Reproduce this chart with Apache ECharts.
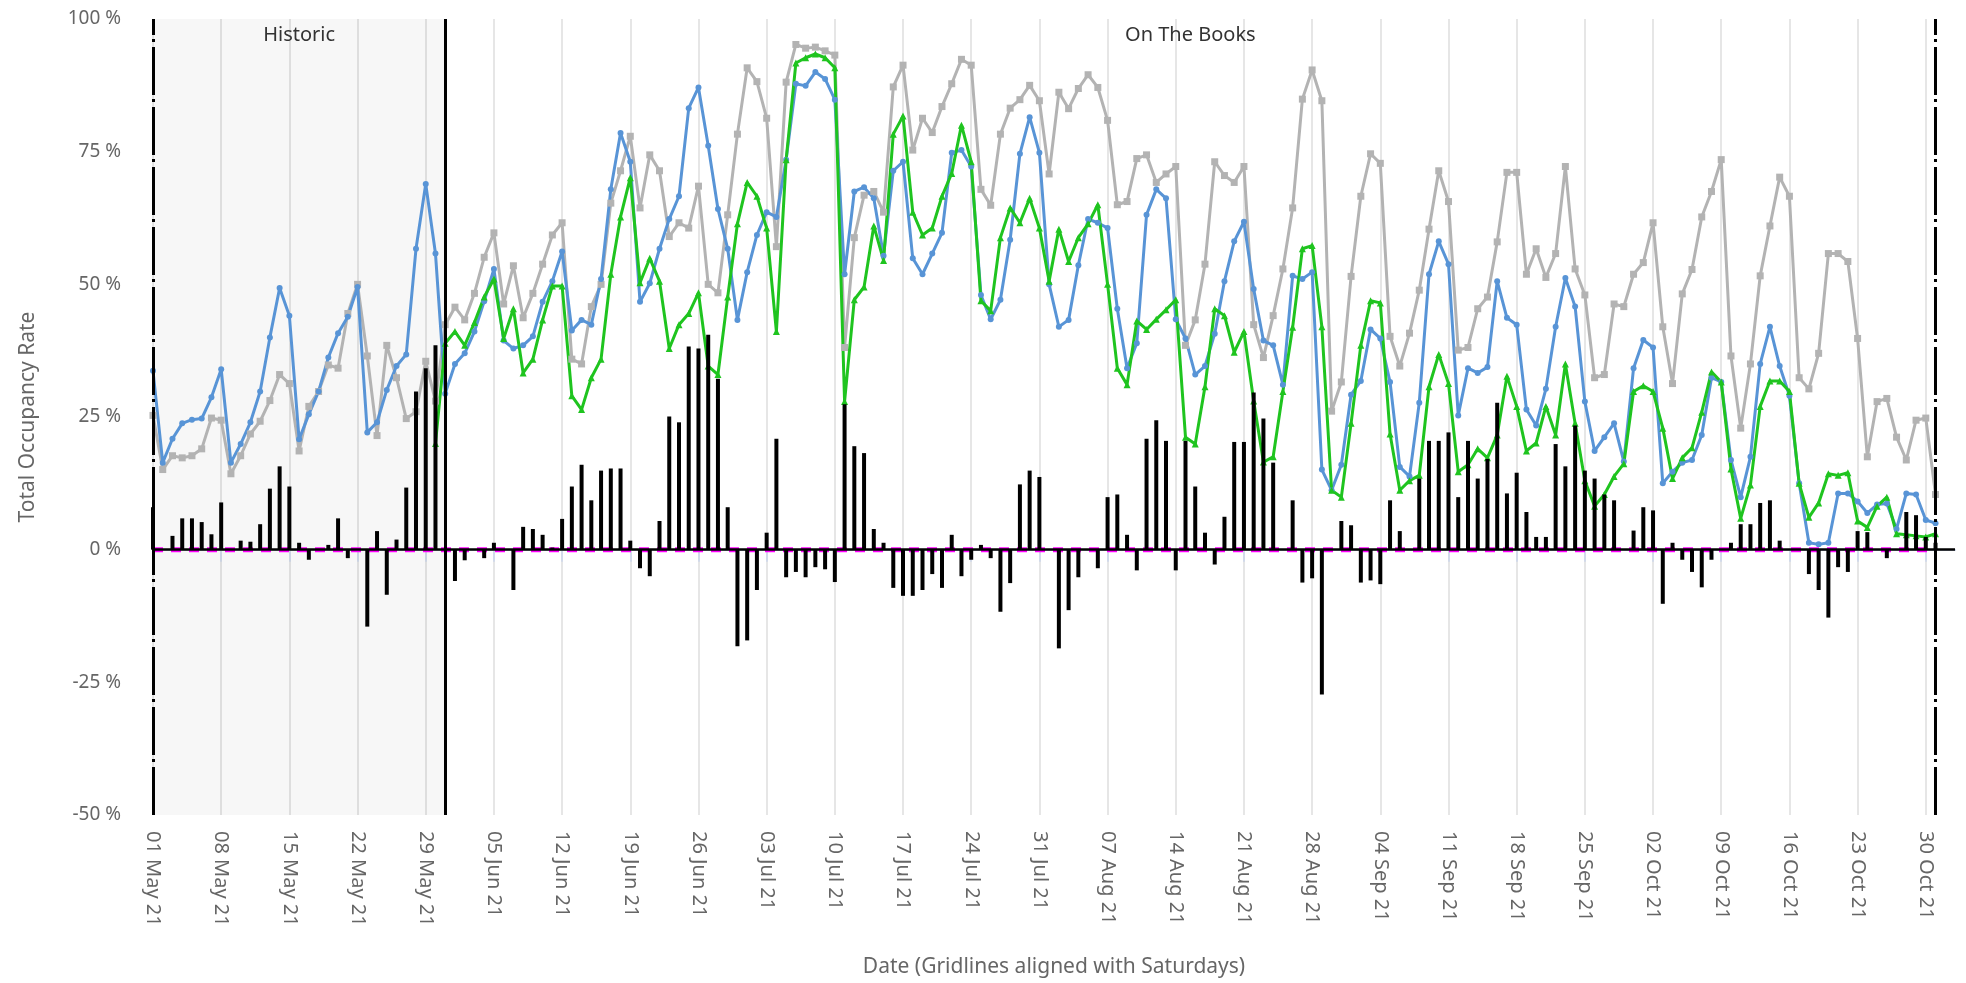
<!DOCTYPE html>
<html>
<head>
<meta charset="utf-8">
<title>Total Occupancy Rate</title>
<script src="https://cdn.jsdelivr.net/npm/echarts@6/dist/echarts.min.js"></script>
<style>
    html, body { margin: 0; padding: 0; background: #fff; }
    #occ { width: 1966px; height: 983px; }
</style>
</head>
<body>
<div id="occ"></div>
<script>
// daily values, 01 May 21 .. 31 Oct 21 (index 0 = 01 May)
var lastYear = [25.3,15.1,17.7,17.3,17.7,19.0,24.8,24.4,14.3,17.7,21.8,24.2,28.1,33.0,31.3,18.6,27.0,29.8,34.8,34.2,44.5,50.0,36.5,21.5,38.5,32.4,24.7,26.0,35.5,28.0,
    42.4,45.7,43.3,48.3,55.1,59.7,46.3,53.5,43.7,48.3,53.8,59.3,61.6,35.9,35.0,45.8,50.0,65.3,71.4,77.9,64.4,74.4,71.4,59.0,61.6,60.6,68.5,50.0,48.4,63.1,
    78.3,90.8,88.2,81.3,57.1,88.1,95.2,94.5,94.7,94.0,93.2,38.1,58.8,66.8,67.5,63.6,87.2,91.3,75.3,81.3,78.6,83.5,87.8,92.4,91.3,67.9,64.9,78.3,83.2,84.8,
    87.5,84.6,70.8,86.2,83.1,86.9,89.5,87.1,80.9,65.0,65.6,73.7,74.4,69.2,70.8,72.2,38.5,43.3,53.8,73.1,70.5,69.2,72.2,42.4,36.2,44.1,52.9,64.4,84.9,90.4,
    84.6,26.1,31.6,51.5,66.6,74.6,72.8,40.2,34.6,40.8,48.9,60.4,71.4,65.6,37.6,38.1,45.4,47.6,58.0,71.1,71.1,51.9,56.7,51.3,55.8,72.2,52.9,48.0,32.4,33.0,
    46.3,45.8,51.9,54.1,61.6,42.0,31.3,48.2,52.8,62.7,67.5,73.5,36.5,22.9,35.0,51.6,61.0,70.2,66.6,32.4,30.3,37.0,55.8,55.8,54.3,39.8,17.5,27.9,28.5,21.2,
    16.9,24.4,24.8,10.4];

var thisYear = [33.7,16.4,20.9,23.8,24.5,24.7,28.7,34.0,16.4,19.9,24.0,29.8,40.0,49.3,44.1,20.8,25.5,29.8,36.2,40.8,43.9,49.5,22.1,24.0,30.1,34.6,36.8,56.7,68.9,55.8,
    29.4,35.0,37.0,41.1,46.8,52.9,39.4,37.9,38.5,40.2,46.7,50.6,56.2,41.3,43.3,42.4,51.0,67.9,78.5,73.1,46.7,50.2,56.7,62.3,66.6,83.2,87.1,76.1,64.2,56.7,
    43.3,52.3,59.3,63.6,62.7,73.5,87.8,87.4,90.0,88.7,84.8,51.9,67.5,68.3,66.2,55.4,71.4,73.1,54.9,51.9,55.8,59.7,74.8,75.3,72.2,48.0,43.4,47.1,58.4,74.6,
    81.5,74.8,50.0,42.0,43.3,53.6,62.3,61.6,60.6,45.4,34.2,38.9,63.1,67.9,66.2,43.4,39.8,33.0,34.6,40.7,50.6,58.1,61.8,49.1,39.4,38.5,31.1,51.6,51.0,52.3,
    15.1,11.2,16.0,29.2,31.8,41.5,39.8,31.6,15.6,13.8,27.7,51.9,58.1,53.8,25.3,34.2,33.3,34.4,50.6,43.7,42.4,26.4,23.4,30.3,42.0,51.2,45.8,27.9,18.6,21.2,
    23.8,16.6,34.2,39.5,38.1,12.5,14.7,16.4,16.9,21.6,32.4,31.6,16.9,9.9,17.5,35.0,42.0,34.6,29.0,12.5,1.3,1.0,1.3,10.6,10.6,9.1,6.9,8.5,8.7,3.9,
    10.6,10.4,5.6,5.0];

var forecast = [null,null,null,null,null,null,null,null,null,null,null,null,null,null,null,null,null,null,null,null,null,null,null,null,null,null,null,null,null,20.0,
    38.9,41.1,38.5,42.8,47.6,51.0,39.8,45.4,33.3,35.9,43.3,49.7,49.7,29.0,26.4,32.4,35.9,51.9,62.7,70.1,50.3,54.9,50.6,37.9,42.4,44.5,48.4,34.6,33.0,47.6,
    61.4,69.2,66.6,60.6,41.1,73.5,91.7,92.7,93.4,92.7,90.8,27.9,47.1,49.5,61.0,54.5,78.3,81.7,63.6,59.3,60.6,66.6,70.9,80.0,73.1,46.9,45.0,58.8,64.4,61.6,
    66.2,60.6,50.6,60.4,54.3,58.8,61.4,65.0,50.0,34.2,31.1,43.1,41.5,43.4,45.2,47.1,21.2,19.9,30.7,45.4,44.1,37.2,41.1,28.0,16.5,17.5,29.8,41.9,56.7,57.3,
    42.0,11.2,9.9,23.8,38.5,46.9,46.5,21.8,11.2,13.0,14.0,30.7,36.8,31.3,14.7,16.0,19.0,17.3,21.6,32.7,27.0,18.6,20.1,27.0,21.6,35.0,23.8,13.0,8.2,10.4,
    13.8,16.2,29.8,30.9,29.8,22.9,13.4,17.3,19.2,25.9,33.5,31.6,15.2,5.9,12.2,27.0,31.8,31.8,29.8,12.5,6.1,8.8,14.3,14.0,14.5,5.4,4.2,8.2,9.9,3.0,
    2.8,2.6,2.4,3.0];

var change = [8.0,0,2.6,5.9,5.9,5.2,2.9,8.9,0,1.7,1.5,4.8,11.5,15.7,11.9,1.3,-1.9,0,0.9,5.9,-1.6,0,-14.5,3.5,-8.5,1.9,11.7,29.8,34.2,38.5,
    null,-5.9,-2.0,0,-1.6,1.3,0,-7.6,4.3,3.9,2.8,0.4,5.8,11.9,16.0,9.3,14.9,15.3,15.3,1.7,-3.5,-5.0,5.4,25.1,24.0,38.3,37.9,40.5,32.2,8.0,
    -18.2,-17.1,-7.6,3.2,20.9,-5.2,-4.2,-5.2,-3.3,-3.7,-6.1,27.4,19.5,18.2,3.9,1.3,-7.2,-8.7,-8.7,-7.6,-4.6,-7.2,2.8,-5.0,-1.9,0.9,-1.6,-11.7,-6.3,12.3,
    14.9,13.7,0,-18.6,-11.4,-5.2,0,-3.5,9.9,10.4,2.8,-3.9,20.9,24.4,20.5,-3.9,20.5,11.9,3.2,-2.8,6.2,20.3,20.3,29.6,24.7,16.4,0,9.3,-6.2,-5.4,
    -27.3,0,5.4,4.6,-6.2,-5.8,-6.5,9.3,3.5,0,13.4,20.5,20.5,22.1,9.9,20.5,13.4,17.1,27.7,10.6,14.5,7.1,2.4,2.4,19.9,15.7,23.4,14.9,13.4,10.4,
    9.3,0,3.6,8.0,7.4,-10.2,1.3,-1.9,-4.2,-7.1,-1.9,0,1.3,4.8,4.8,8.8,9.3,1.7,0,0,-4.6,-7.6,-12.8,-3.3,-4.2,3.5,3.3,0,-1.6,0,
    7.1,6.5,2.4,1.3];

var yTicks = [-50, 100, 25];   // min, max, step
var todayIndex = 30;           // 31 May 21, end of historic data
var lastIndex = 183;           // 31 Oct 21

// axis categories: one per day, 01 May 21 .. 02 Nov 21
var monthNames = ['Jan','Feb','Mar','Apr','May','Jun','Jul','Aug','Sep','Oct','Nov','Dec'];
var days = [];
for (var i = 0; i < 186; i++) {
    var d = new Date(2021, 4, 1 + i);
    days.push(('0' + d.getDate()).slice(-2) + ' ' + monthNames[d.getMonth()] + ' 21');
}
var zeros = thisYear.map(function () { return 0; });

(function(){

    var chart = echarts.init(document.getElementById('occ'));
    var font = 'Noto Sans';
    var everySaturday = function (index) { return index % 7 === 0; };

    option = {
        animation: false,
        backgroundColor: '#fff',
        grid: {
            left: 153,
            right: 11,
            top: 19,
            bottom: 168,
            containLabel: false
        },
        xAxis: {
            type: 'category',
            boundaryGap: false,
            data: days,
            name: 'Date (Gridlines aligned with Saturdays)',
            nameLocation: 'middle',
            nameGap: 142,
            nameTextStyle: { color: '#666', fontSize: 21, fontFamily: font },
            axisLine: { lineStyle: { color: '#ccd6eb', width: 2 } },
            axisTick: { interval: everySaturday, length: 12, lineStyle: { color: '#ccd6eb', width: 1.5 } },
            axisLabel: {
                interval: everySaturday,
                rotate: -90,
                margin: 16,
                color: '#666',
                fontSize: 20,
                fontFamily: font
            },
            splitLine: { show: true, interval: everySaturday, lineStyle: { color: '#e6e6e6', width: 2 } }
        },
        yAxis: {
            type: 'value',
            min: yTicks[0],
            max: yTicks[1],
            interval: yTicks[2],
            name: 'Total Occupancy Rate',
            nameLocation: 'middle',
            nameGap: 114,
            nameTextStyle: { color: '#666', fontSize: 21, fontFamily: font },
            axisLine: { show: false },
            axisTick: { show: false },
            splitLine: { show: false },
            axisLabel: { formatter: '{value} %', color: '#666', fontSize: 19, fontFamily: font, margin: 32 }
        },
        series: [
            {
                // shading and section titles
                type: 'line',
                data: [],
                z: 1,
                markArea: {
                    silent: true,
                    data: [
                        [
                            { xAxis: days[0], itemStyle: { color: 'rgba(0,0,0,0.032)' },
                              label: { show: true, position: 'insideTop', distance: 6, formatter: 'Historic',
                                       color: '#333', fontSize: 20, fontFamily: font } },
                            { xAxis: days[todayIndex] }
                        ],
                        [
                            { xAxis: days[todayIndex], itemStyle: { color: 'rgba(0,0,0,0)' },
                              label: { show: true, position: 'insideTop', distance: 6, formatter: 'On The Books',
                                       color: '#333', fontSize: 20, fontFamily: font } },
                            { xAxis: days[lastIndex] }
                        ]
                    ]
                }
            },
            {
                name: 'Last Year',
                type: 'line',
                data: lastYear,
                z: 2,
                symbol: 'rect',
                symbolSize: 7,
                showAllSymbol: true,
                itemStyle: { color: '#b3b3b3' },
                lineStyle: { color: '#b3b3b3', width: 3 }
            },
            {
                name: 'This Year',
                type: 'line',
                data: thisYear,
                z: 2,
                symbol: 'circle',
                symbolSize: 6,
                showAllSymbol: true,
                itemStyle: { color: '#5894d6' },
                lineStyle: { color: '#5894d6', width: 3 }
            },
            {
                name: 'Forecast',
                type: 'line',
                data: forecast,
                z: 2,
                symbol: 'triangle',
                symbolSize: 7,
                showAllSymbol: true,
                itemStyle: { color: '#1fc41f' },
                lineStyle: { color: '#1fc41f', width: 3 }
            },
            {
                name: 'Zero',
                type: 'line',
                data: zeros,
                z: 3,
                symbol: 'none',
                lineStyle: { color: '#ff00ff', width: 5, type: [10, 8] }
            },
            {
                name: 'Change',
                type: 'bar',
                data: change,
                z: 4,
                barWidth: 4,
                itemStyle: { color: '#000' }
            },
            {
                // zero line, today line and period edges
                type: 'line',
                data: [],
                z: 5,
                markLine: {
                    silent: true,
                    symbol: ['none', 'none'],
                    label: { show: false },
                    data: [
                        { yAxis: 0, lineStyle: { color: '#000', width: 2.5, type: 'solid' } },
                        { xAxis: days[todayIndex], lineStyle: { color: '#000', width: 3, type: 'solid' } },
                        { xAxis: days[0], lineStyle: { color: '#000', width: 3, type: [48, 5, 3, 4] } },
                        { xAxis: days[lastIndex], lineStyle: { color: '#000', width: 3, type: [48, 5, 3, 4] } }
                    ]
                }
            }
        ]
    };

    chart.setOption(option);
})();
</script>
</body>
</html>
